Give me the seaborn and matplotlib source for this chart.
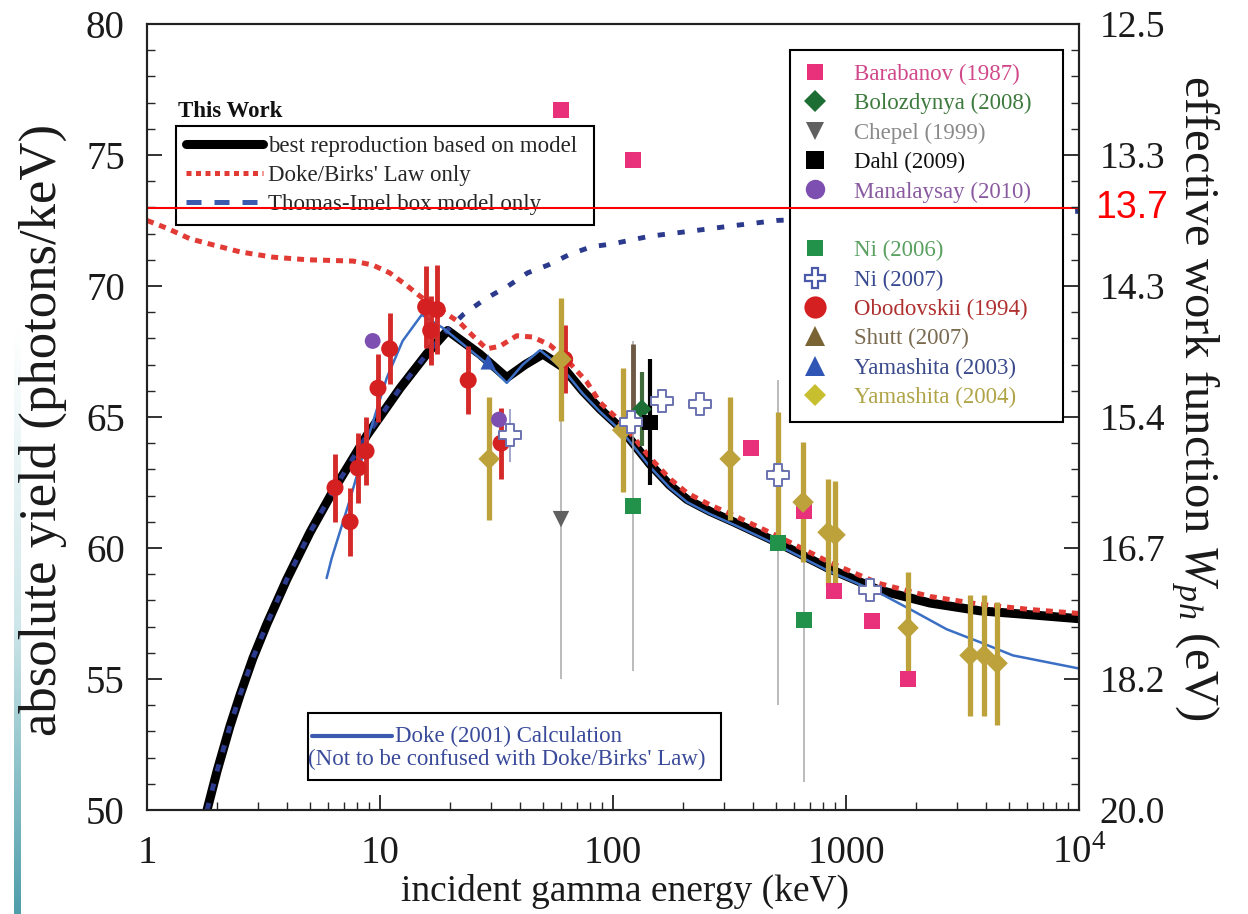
import numpy as np
import matplotlib
matplotlib.use("Agg")
import matplotlib.pyplot as plt
import matplotlib.transforms as mtransforms
from matplotlib.lines import Line2D
from matplotlib.patches import Rectangle
from matplotlib.colors import LinearSegmentedColormap
from matplotlib.ticker import (MultipleLocator, FixedLocator, FixedFormatter,
                               LogLocator, NullFormatter, FuncFormatter)
import seaborn as sns

# Model curves: energy (keV) vs absolute yield (photons/keV)
best_E = [1.81, 2.0, 2.27, 2.51, 2.85, 3.27, 3.98, 5.01, 6.31, 8.79, 12.2, 15.85,
          19.5, 26.8, 35.0, 42.0, 50.0, 61.0, 74.0, 88.0, 110.0, 144.0, 175.0, 208.0,
          260.0, 328.0, 510.0, 850.0, 1380.0, 2290.0, 3770.0, 6200.0, 10000.0]
best_Y = [50.0, 51.5, 53.2, 54.4, 55.8, 57.1, 58.8, 60.6, 62.2, 64.3, 66.1, 67.4,
          68.3, 67.4, 66.5, 67.0, 67.4, 66.9, 66.0, 65.3, 64.5, 63.2, 62.4, 61.85,
          61.4, 61.0, 60.2, 59.2, 58.4, 57.9, 57.6, 57.45, 57.3]

birks_E = [1.0, 1.22, 1.53, 1.86, 2.51, 3.47, 4.86, 7.66, 9.3, 11.0, 13.1, 14.9, 18.1, 22.0,
           25.0, 28.7, 32.7, 38.6, 45.3, 53.5, 63.0, 77.0, 88.0, 110.0, 144.0, 175.0,
           208.0, 260.0, 328.0, 510.0, 850.0, 1380.0, 2290.0, 3770.0, 6200.0, 10000.0]
birks_Y = [72.5, 72.2, 71.8, 71.6, 71.3, 71.1, 71.0, 70.95, 70.8, 70.5, 70.0, 69.6, 69.1, 68.6,
           68.1, 67.6, 67.7, 68.1, 68.05, 67.75, 67.2, 66.35, 65.55, 64.75, 63.45, 62.65,
           62.1, 61.65, 61.25, 60.45, 59.45, 58.65, 58.15, 57.85, 57.65, 57.5]

imel_E = [1.81, 2.0, 2.27, 2.51, 2.85, 3.27, 3.98, 5.01, 6.31, 8.79, 12.2, 15.85,
          19.4, 22.7, 28.2, 35.5, 43.0, 52.7, 65.0, 81.0, 98.7, 144.0, 219.0,
          328.0, 505.0, 881.0, 1600.0, 3070.0, 7300.0, 10000.0]
imel_Y = [50.0, 51.5, 53.2, 54.4, 55.8, 57.1, 58.8, 60.6, 62.2, 64.3, 66.1, 67.4,
          68.3, 68.9, 69.5, 70.0, 70.5, 70.8, 71.2, 71.5, 71.6, 71.9, 72.1,
          72.3, 72.5, 72.6, 72.7, 72.75, 72.8, 72.85]

doke01_E = [5.9, 6.2, 7.4, 8.8, 10.7, 12.5, 15.1, 18.6, 24.0, 30.0, 35.0, 41.0, 48.6, 60.0,
            74.0, 88.0, 110.0, 144.0, 175.0, 208.0, 260.0, 328.0, 510.0, 850.0, 1380.0,
            1940.0, 2700.0, 3770.0, 5200.0, 10000.0]
doke01_Y = [58.85, 59.6, 61.8, 64.1, 66.5, 67.9, 68.9, 68.4, 67.6, 66.9, 66.3, 67.0, 67.55, 66.9,
            65.9, 65.2, 64.4, 63.1, 62.3, 61.75, 61.3, 60.9, 60.1, 59.1, 58.3,
            57.6, 56.9, 56.4, 55.9, 55.4]

# Measurements
barabanov_E = [59.8, 122, 391, 660, 888, 1290, 1846]
barabanov_Y = [76.7, 74.8, 63.8, 61.4, 58.35, 57.2, 55.0]

bolozdynya_E = [133]
bolozdynya_Y = [65.3]
bolozdynya_err = [1.4]

chepel_E = [59.8]
chepel_Y = [61.1]
chepel_err = [6.1]

dahl_E = [144]
dahl_Y = [64.8]
dahl_err = [2.4]

manalaysay_E = [9.3, 32.4]
manalaysay_Y = [67.9, 64.9]

ni06_E = [122, 510, 660]
ni06_Y = [61.6, 60.2, 57.25]
ni06_err = [6.3, 6.2, 6.2]

ni07_E = [36.1, 120, 162, 236, 510, 1268]
ni07_Y = [64.3, 64.8, 65.6, 65.5, 62.8, 58.4]
ni07_err = [1.0, 0, 0, 0, 0, 0]

obod_E = [6.41, 7.44, 8.05, 8.71, 9.8, 11.0, 15.7, 16.5, 17.6, 23.9, 33.1, 62]
obod_Y = [62.3, 61.0, 63.05, 63.7, 66.1, 67.6, 69.2, 68.3, 69.1, 66.4, 64.0, 67.2]
obod_err = [1.3, 1.3, 1.35, 1.3, 1.3, 1.35, 1.55, 1.3, 1.7, 1.3, 1.35, 1.3]

shutt_E = [122]
shutt_Y = [66.4]
shutt_err = [1.4]

yama03_E = [29.1]
yama03_Y = [67.1]

yama04_E = [29.4, 59.8, 110, 318, 511, 654, 837, 897, 1846, 3405, 3910, 4450]
yama04_Y = [63.4, 67.2, 64.5, 63.4, 62.8, 61.75, 60.6, 60.5, 56.95, 55.9, 55.9, 55.6]
yama04_err = [2.35, 2.35, 2.35, 2.35, 2.4, 2.3, 2.05, 2.05, 2.15, 2.3, 2.3, 2.35]

x_ticks = [1, 10, 100, 1000, 10000]
x_ticklabels = ['1', '10', '100', '1000', '$10^4$']
w_marked = 13.7

# Setup
sns.set_theme(style="ticks")
plt.rcParams['font.family'] = ['Liberation Serif', 'DejaVu Serif']
plt.rcParams['mathtext.fontset'] = 'custom'
plt.rcParams['mathtext.rm'] = 'Liberation Serif'
plt.rcParams['mathtext.it'] = 'Liberation Serif:italic'
plt.rcParams['axes.linewidth'] = 1.5
plt.rcParams['axes.edgecolor'] = '#222222'

fig = plt.figure(figsize=(12.48, 9.14), dpi=100)
ax = fig.add_axes([0.1178, 0.1138, 0.7468, 0.8600])
ax.set_xscale('log')
ax.set_xlim(1, 1e4)
ax.set_ylim(50, 80)

# Curves
sns.lineplot(x=best_E, y=best_Y, ax=ax, color='black', linewidth=6.5, sort=False, zorder=2)
sns.lineplot(x=birks_E, y=birks_Y, ax=ax, color='#e23b36', linewidth=3.6, sort=False, zorder=2.1)
ax.lines[-1].set_dashes([1.4, 1.2])
ax.lines[-1].set_dash_capstyle('butt')
sns.lineplot(x=imel_E, y=imel_Y, ax=ax, color='#2b3a8c', linewidth=3.5, sort=False, zorder=2.2)
ax.lines[-1].set_dashes([1.5, 2.6])
ax.lines[-1].set_dash_capstyle('butt')
sns.lineplot(x=doke01_E, y=doke01_Y, ax=ax, color='#3b6fc4', linewidth=1.8, sort=False, zorder=2.3)


def bars(E, Y, err, color, lw):
    E, Y, err = np.asarray(E), np.asarray(Y), np.asarray(err)
    ax.vlines(E, Y - err, Y + err, colors=color, linewidth=lw, zorder=3)


# Error bars
bars(chepel_E, chepel_Y, chepel_err, '#a8a8a8', 1.1)
bars(ni06_E, ni06_Y, ni06_err, '#a8a8a8', 1.1)
bars(ni07_E, ni07_Y, ni07_err, '#8a90c0', 1.1)
bars(obod_E, obod_Y, obod_err, '#d42a2a', 3.5)
bars(shutt_E, shutt_Y, shutt_err, '#6e5a44', 3.5)
bars(bolozdynya_E, bolozdynya_Y, bolozdynya_err, '#3f6a3a', 3.0)
bars(dahl_E, dahl_Y, dahl_err, 'black', 3.0)
bars(yama04_E, yama04_Y, yama04_err, '#bda23c', 3.8)

# Markers
def pts(E, Y, marker, s, color, ec='none', lw=0):
    sns.scatterplot(x=E, y=Y, ax=ax, marker=marker, s=s, color=color,
                    edgecolor=ec, linewidth=lw, zorder=4)


pts(barabanov_E, barabanov_Y, 's', 130, '#e8317a')
pts(chepel_E, chepel_Y, 'v', 140, '#606060')
pts(ni06_E, ni06_Y, 's', 130, '#22924a')
pts(obod_E, obod_Y, 'o', 150, '#d42020')
pts(manalaysay_E, manalaysay_Y, 'o', 130, '#7d4fb0')
pts(yama03_E, yama03_Y, '^', 120, '#2f55b5')
pts(yama04_E, yama04_Y, 'D', 120, '#bda23c')
pts(bolozdynya_E, bolozdynya_Y, 'D', 100, '#1d6e35')
pts(dahl_E, dahl_Y, 's', 120, 'black')
pts(ni07_E, ni07_Y, 'P', 240, 'white', ec='#6a72b0', lw=1.4)

# Axes styling
ax.xaxis.set_major_locator(FixedLocator(x_ticks))
ax.xaxis.set_major_formatter(FixedFormatter(x_ticklabels))
ax.xaxis.set_minor_locator(LogLocator(base=10, subs=np.arange(2, 10)))
ax.xaxis.set_minor_formatter(NullFormatter())
ax.yaxis.set_major_locator(MultipleLocator(5))
ax.yaxis.set_minor_locator(MultipleLocator(1))
ax.tick_params(which='major', direction='in', length=11, width=1.3, labelsize=28,
               top=False, right=False, colors='#222222', labelcolor='#1a1a1a')
ax.tick_params(which='minor', direction='in', length=6, width=1.0, top=False, right=False)
ax.tick_params(axis='x', which='major', pad=18)
ax.tick_params(axis='y', which='major', pad=16)
ax.set_xlabel('')
ax.set_ylabel('')

ax2 = ax.twinx()
ax2.set_ylim(50, 80)
ax2.yaxis.set_major_locator(MultipleLocator(5))
ax2.yaxis.set_minor_locator(MultipleLocator(1))
ax2.yaxis.set_major_formatter(FuncFormatter(lambda y, p: f'{1000 / y:.1f}'))
ax2.tick_params(which='major', direction='in', length=11, width=1.3, labelsize=27, pad=15,
                colors='#222222', labelcolor='#1a1a1a')
ax2.tick_params(which='minor', direction='in', length=6, width=1.0)

# Red marker line at W = 13.7 eV
ax.axhline(1000 / w_marked, color='#ff0000', linewidth=1.5, zorder=10)
ax.text(1.017, 1000 / w_marked, f'{w_marked}', color='#ff0000', fontsize=27,
        family=['Liberation Sans', 'DejaVu Sans'], va='center', ha='left',
        transform=mtransforms.blended_transform_factory(ax.transAxes, ax.transData))

# Axis labels
fig.text(0.034, 0.530, 'absolute yield (photons/keV)', rotation=90, fontsize=38,
         ha='center', va='center', color='#1a1a1a')
fig.text(0.501, 0.025, 'incident gamma energy (keV)', fontsize=27,
         ha='center', va='center', color='#1a1a1a')
fig.text(0.9575, 0.565, 'effective work function $W_{ph}$ (eV)', rotation=270, fontsize=35,
         ha='center', va='center', color='#1a1a1a')

# "This Work" legend
ax.text(0.033, 0.889, 'This Work', fontsize=16.5, fontweight='bold', transform=ax.transAxes,
        va='center', ha='left', color='#111111')
work_handles = [
    Line2D([], [], color='black', linewidth=6.5),
    Line2D([], [], color='#e23b36', linewidth=3.6, dashes=(1.0, 0.9), dash_capstyle='butt'),
    Line2D([], [], color='#3a5ab0', linewidth=3.6, dashes=(3.0, 2.6), dash_capstyle='butt'),
]
work_labels = ['best reproduction based on model', "Doke/Birks' Law only",
               'Thomas-Imel box model only']
leg1 = ax.legend(work_handles, work_labels, loc='upper left',
                 bbox_to_anchor=(0.031, 0.5, 0.449, 0.370), mode='expand',
                 borderaxespad=0, fontsize=16.5, frameon=True, fancybox=False,
                 edgecolor='black', framealpha=1, handlelength=3.4, handletextpad=0.2,
                 borderpad=0.42, labelspacing=0.36)
leg1.get_frame().set_linewidth(1.5)
ax.add_artist(leg1)

# Reference data legend
ref_labels = ['Barabanov (1987)', 'Bolozdynya (2008)', 'Chepel (1999)', 'Dahl (2009)',
              'Manalaysay (2010)', ' ', 'Ni (2006)', 'Ni (2007)', 'Obodovskii (1994)',
              'Shutt (2007)', 'Yamashita (2003)', 'Yamashita (2004)']
ref_markers = ['s', 'D', 'v', 's', 'o', 'none', 's', 'P', 'o', '^', '^', 'D']
ref_colors = ['#e8317a', '#1d6e35', '#606060', 'black', '#7d4fb0', 'white',
              '#22924a', 'white', '#d42020', '#7b6434', '#2f55b5', '#c8bf30']
ref_edges = ref_colors[:7] + ['#4a5aa8'] + ref_colors[8:]
ref_sizes = [12, 11, 13, 13, 14, 1, 11, 15, 16, 14, 14, 11]
ref_text_colors = ['#d0488a', '#3d7a3d', '#8a8a8a', '#111111', '#8a5aa0', 'white',
                   '#5aa060', '#3a4a90', '#b03030', '#7a6a50', '#3a4a8a', '#b0a448']
ref_handles = [Line2D([], [], linestyle='none', marker=m, markersize=ms, markerfacecolor=c,
                      markeredgecolor=e, markeredgewidth=1.6 if m == 'P' else 0)
               for m, ms, c, e in zip(ref_markers, ref_sizes, ref_colors, ref_edges)]
leg2 = ax.legend(ref_handles, ref_labels, loc='upper left',
                 bbox_to_anchor=(0.690, 0.49, 0.293, 0.477), mode='expand',
                 borderaxespad=0, fontsize=16.5, frameon=True, fancybox=False,
                 edgecolor='black', framealpha=1, handlelength=1.0, handletextpad=1.2,
                 borderpad=0.6, labelspacing=0.36, labelcolor=ref_text_colors)
leg2.get_frame().set_linewidth(1.5)

# Doke (2001) box
ax.add_patch(Rectangle((0.173, 0.038), 0.443, 0.085, transform=ax.transAxes,
                       facecolor='white', edgecolor='black', linewidth=1.5, zorder=6))
ax.plot([0.177, 0.263], [0.094, 0.094], transform=ax.transAxes, color='#3b5ab0',
        linewidth=3.0, zorder=7)
ax.text(0.266, 0.094, 'Doke (2001) Calculation', transform=ax.transAxes, fontsize=16.5,
        color='#3a4a9a', va='center', ha='left', zorder=7)
ax.text(0.386, 0.064, "(Not to be confused with Doke/Birks' Law)", transform=ax.transAxes,
        fontsize=16.5, color='#3a4a9a', va='center', ha='center', zorder=7)

# Slide decoration strip at the left edge
strip = fig.add_axes([14 / 1248, 0, 7 / 1248, 0.64])
strip.imshow(np.linspace(0, 1, 200).reshape(-1, 1), aspect='auto',
             cmap=LinearSegmentedColormap.from_list('strip', ['#ffffff', '#cfe7ea', '#4f9eab']))
strip.axis('off')

fig.savefig('out.png', dpi=100, facecolor='white')
